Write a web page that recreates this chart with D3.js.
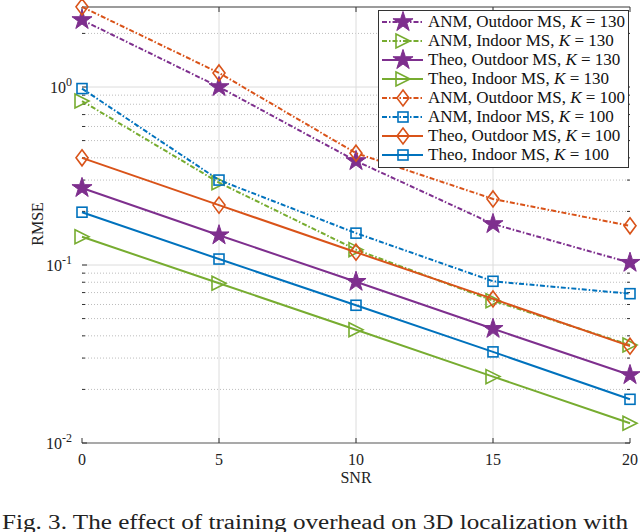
<!DOCTYPE html>
<html>
<head>
<meta charset="utf-8">
<script src="https://cdn.jsdelivr.net/npm/d3@7"></script>
<style>
  body { margin: 0; background: #fff; }
  text { font-family: "Liberation Serif", "Times New Roman", serif; }
</style>
</head>
<body>
<script>
// chart size
var width = 640,
    height = 532;

// data
var snr = [0, 5, 10, 15, 20];
var anmOut130 = [2.38, 1.0, 0.384, 0.170, 0.103];
var anmIn130 = [0.834, 0.29, 0.122, 0.063, 0.0355];
var theoOut130 = [0.271, 0.147, 0.0805, 0.0438, 0.0241];
var theoIn130 = [0.144, 0.079, 0.0433, 0.0236, 0.0129];
var anmOut100 = [2.82, 1.20, 0.425, 0.235, 0.166];
var anmIn100 = [0.98, 0.30, 0.151, 0.081, 0.069];
var theoOut100 = [0.40, 0.217, 0.118, 0.0645, 0.035];
var theoIn100 = [0.198, 0.108, 0.0594, 0.0325, 0.0176];

var names = [
  ['ANM, Outdoor MS, ', '130'],
  ['ANM, Indoor MS, ', '130'],
  ['Theo, Outdoor MS, ', '130'],
  ['Theo, Indoor MS, ', '130'],
  ['ANM, Outdoor MS, ', '100'],
  ['ANM, Indoor MS, ', '100'],
  ['Theo, Outdoor MS, ', '100'],
  ['Theo, Indoor MS, ', '100']
];
var xTicks = [0, 5, 10, 15, 20];
var yDecades = [-2, -1, 0];

// matlab default colours
var purple = '#7E2F8E', green = '#77AC30', orange = '#D95319', blue = '#0072BD';

var series = [
  { v: anmOut130, c: purple, m: 'star', dash: true },
  { v: anmIn130, c: green, m: 'tri', dash: true },
  { v: theoOut130, c: purple, m: 'star', dash: false },
  { v: theoIn130, c: green, m: 'tri', dash: false },
  { v: anmOut100, c: orange, m: 'diamond', dash: true },
  { v: anmIn100, c: blue, m: 'square', dash: true },
  { v: theoOut100, c: orange, m: 'diamond', dash: false },
  { v: theoIn100, c: blue, m: 'square', dash: false }
];

var plot = { left: 82, right: 630, top: 7, bottom: 443 };

var svg = d3.select('body').append('svg')
  .attr('width', width)
  .attr('height', height);

var x = d3.scaleLinear().domain([0, 20]).range([plot.left, plot.right]);
var y = d3.scaleLog().domain([0.01, Math.pow(10, 80 / 178)]).range([plot.bottom, plot.top]);

// minor grid (dotted)
var minors = [];
yDecades.forEach(function(p) {
  for (var k = 2; k <= 9; k++) {
    var v = k * Math.pow(10, p);
    if (v < y.domain()[1]) minors.push(v);
  }
});
svg.append('g').selectAll('line').data(minors).enter().append('line')
  .attr('x1', plot.left).attr('x2', plot.right)
  .attr('y1', function(d) { return y(d); }).attr('y2', function(d) { return y(d); })
  .attr('stroke', '#bdbdbd').attr('stroke-width', 1)
  .attr('stroke-dasharray', '1,2');

// major grid
svg.append('g').selectAll('line').data([0.1, 1]).enter().append('line')
  .attr('x1', plot.left).attr('x2', plot.right)
  .attr('y1', function(d) { return y(d); }).attr('y2', function(d) { return y(d); })
  .attr('stroke', '#dcdcdc').attr('stroke-width', 1);
svg.append('g').selectAll('line').data([5, 10, 15]).enter().append('line')
  .attr('y1', plot.top).attr('y2', plot.bottom)
  .attr('x1', function(d) { return x(d); }).attr('x2', function(d) { return x(d); })
  .attr('stroke', '#dcdcdc').attr('stroke-width', 1);

// frame: top and bottom lines
svg.append('line').attr('x1', plot.left).attr('x2', plot.right)
  .attr('y1', plot.top).attr('y2', plot.top)
  .attr('stroke', '#7a7a7a').attr('stroke-width', 1.5);
svg.append('line').attr('x1', plot.left).attr('x2', plot.right)
  .attr('y1', plot.bottom).attr('y2', plot.bottom)
  .attr('stroke', '#555').attr('stroke-width', 1.2);

// ticks (inward)
var tickG = svg.append('g').attr('stroke', '#333').attr('stroke-width', 1);
xTicks.forEach(function(t) {
  tickG.append('line').attr('x1', x(t)).attr('x2', x(t)).attr('y1', plot.bottom).attr('y2', plot.bottom - 5);
  tickG.append('line').attr('x1', x(t)).attr('x2', x(t)).attr('y1', plot.top).attr('y2', plot.top + 5);
});
yDecades.forEach(function(p) {
  var yy = y(Math.pow(10, p));
  tickG.append('line').attr('x1', plot.left).attr('x2', plot.left + 5).attr('y1', yy).attr('y2', yy);
  tickG.append('line').attr('x1', plot.right).attr('x2', plot.right - 5).attr('y1', yy).attr('y2', yy);
});
minors.forEach(function(v) {
  var yy = y(v);
  tickG.append('line').attr('x1', plot.left).attr('x2', plot.left + 3).attr('y1', yy).attr('y2', yy);
  tickG.append('line').attr('x1', plot.right).attr('x2', plot.right - 3).attr('y1', yy).attr('y2', yy);
});

// tick labels
svg.append('g').selectAll('text').data(xTicks).enter().append('text')
  .attr('x', function(d) { return x(d); })
  .attr('y', 465)
  .attr('text-anchor', 'middle')
  .attr('font-size', 16)
  .attr('fill', '#222')
  .text(function(d) { return d; });

yDecades.forEach(function(p) {
  var t = svg.append('text')
    .attr('x', 72)
    .attr('y', y(Math.pow(10, p)) + 6)
    .attr('text-anchor', 'end')
    .attr('font-size', 16)
    .attr('fill', '#222');
  t.append('tspan').text('10');
  t.append('tspan').attr('dy', -7).attr('font-size', 12).text(p);
});

// axis titles
svg.append('text').attr('x', x(10)).attr('y', 483)
  .attr('text-anchor', 'middle').attr('font-size', 16).attr('fill', '#222')
  .text('SNR');
svg.append('text')
  .attr('transform', 'translate(43,' + y(0.17) + ') rotate(-90)')
  .attr('text-anchor', 'middle').attr('font-size', 16).attr('fill', '#222')
  .text('RMSE');

// marker drawing
function marker(g, type, color, px, py) {
  if (type === 'star') {
    g.append('path')
      .attr('d', d3.symbol().type(d3.symbolStar).size(125)())
      .attr('transform', 'translate(' + px + ',' + py + ')')
      .attr('fill', color).attr('stroke', color).attr('stroke-width', 1);
  } else if (type === 'tri') {
    var s = 7;
    g.append('path')
      .attr('d', 'M' + (px - s) + ',' + (py - s) + 'L' + (px + s) + ',' + py + 'L' + (px - s) + ',' + (py + s) + 'Z')
      .attr('fill', 'none').attr('stroke', color).attr('stroke-width', 1.6);
  } else if (type === 'diamond') {
    var r = 8;
    g.append('path')
      .attr('d', 'M' + px + ',' + (py - r) + 'L' + (px + r * 0.75) + ',' + py + 'L' + px + ',' + (py + r) + 'L' + (px - r * 0.75) + ',' + py + 'Z')
      .attr('fill', 'none').attr('stroke', color).attr('stroke-width', 1.6);
  } else {
    var h = 5;
    g.append('rect')
      .attr('x', px - h).attr('y', py - h).attr('width', 2 * h).attr('height', 2 * h)
      .attr('fill', 'none').attr('stroke', color).attr('stroke-width', 1.6);
  }
}

var line = d3.line()
  .x(function(d, i) { return x(snr[i]); })
  .y(function(d) { return y(d); });

// draw series, later ones on top (legend order)
series.forEach(function(s) {
  var g = svg.append('g');
  g.append('path')
    .attr('d', line(s.v))
    .attr('fill', 'none')
    .attr('stroke', s.c)
    .attr('stroke-width', 2)
    .attr('stroke-dasharray', s.dash ? '5,2,1.5,2' : null);
  s.v.forEach(function(v, i) {
    marker(g, s.m, s.c, x(snr[i]), y(v));
  });
});

// legend
var leg = svg.append('g');
leg.append('rect')
  .attr('x', 378.5).attr('y', 10.5).attr('width', 250).attr('height', 157)
  .attr('fill', '#fff').attr('stroke', '#333').attr('stroke-width', 1);
series.forEach(function(s, i) {
  var ly = 22 + i * 19;
  leg.append('line')
    .attr('x1', 382).attr('x2', 423).attr('y1', ly).attr('y2', ly)
    .attr('stroke', s.c)
    .attr('stroke-width', 2)
    .attr('stroke-dasharray', s.dash ? '5,2,1.5,2' : null);
  marker(leg, s.m, s.c, 403, ly);
  var t = leg.append('text')
    .attr('x', 428).attr('y', ly + 5)
    .attr('font-size', 17).attr('fill', '#111');
  t.append('tspan').text(names[i][0]);
  t.append('tspan').attr('font-style', 'italic').text('K');
  t.append('tspan').text(' = ' + names[i][1]);
});

// caption at the bottom edge
svg.append('text')
  .attr('x', 2).attr('y', 529)
  .attr('font-size', 20).attr('fill', '#222')
  .attr('textLength', 626)
  .attr('lengthAdjust', 'spacingAndGlyphs')
  .text('Fig. 3. The effect of training overhead on 3D localization with');
</script>
</body>
</html>
